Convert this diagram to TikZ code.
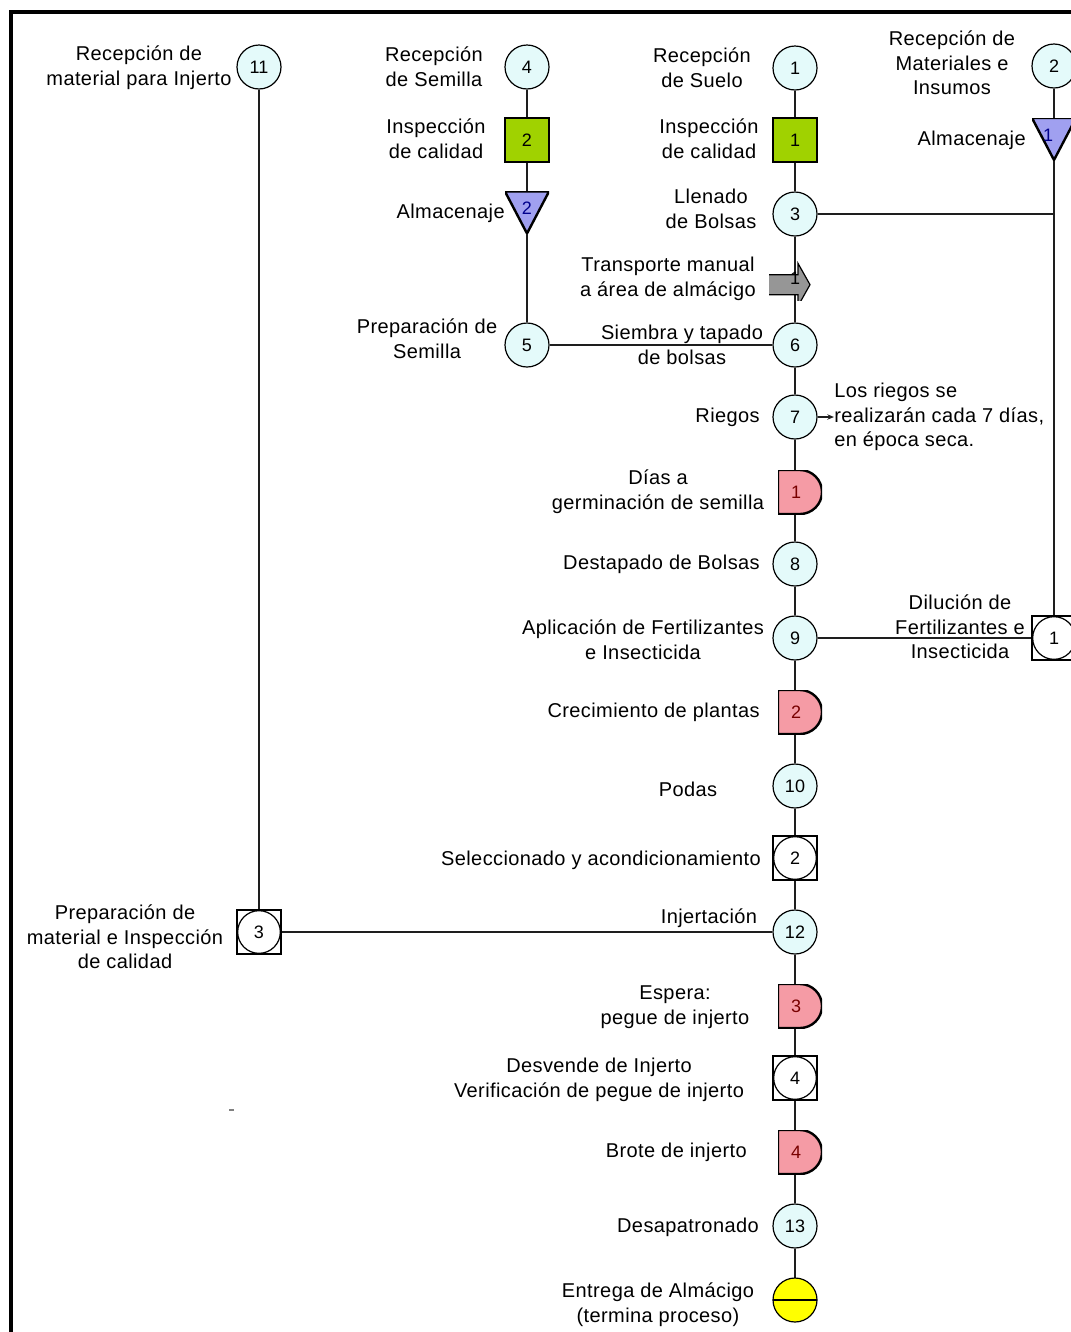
\documentclass[tikz,border=0pt]{standalone}
\usepackage{fontspec}
\setmainfont{Liberation Sans}[LetterSpace=2]
\newfontfamily\numfont{Liberation Sans}
\usetikzlibrary{calc,arrows.meta,backgrounds}
\definecolor{opfill}{RGB}{228,250,250}
\definecolor{inspfill}{RGB}{160,210,0}
\definecolor{storefill}{RGB}{160,160,240}
\definecolor{storenum}{RGB}{0,0,140}
\definecolor{delayfill}{RGB}{245,155,165}
\definecolor{delaynum}{RGB}{120,0,0}
\definecolor{transfill}{RGB}{150,150,150}
\definecolor{endfill}{RGB}{255,255,0}
\definecolor{linecol}{RGB}{30,30,30}
\begin{document}
\begin{tikzpicture}[x=0.75pt,y=-0.75pt,
 conn/.style={draw=linecol, line width=1.3pt},
 lbl/.style={inner sep=0pt, align=center, font=\fontsize{15}{18.5}\selectfont},
 numf/.style={font=\numfont\fontsize{13.5}{13.5}\selectfont},
 op/.style={circle, draw=black, line width=0.9pt, fill=opfill, minimum size=33pt, inner sep=0pt, numf},
 insp/.style={rectangle, draw=black, line width=0.9pt, fill=inspfill, minimum size=33pt, inner sep=0pt, numf},
 store/.style={rectangle, minimum width=33pt, minimum height=31.5pt, inner sep=0pt, numf, text=storenum,
   path picture={\path[fill=storefill, draw=black, line width=1.8pt] (path picture bounding box.north west) -- (path picture bounding box.north east) -- (path picture bounding box.south) -- cycle;}},
 delay/.style={rectangle, minimum size=33pt, inner sep=0pt, numf, text=delaynum,
   path picture={\path[fill=delayfill, draw=black, line width=1.8pt] (path picture bounding box.north west) -- (path picture bounding box.north) arc[start angle=90, end angle=-90, radius=16.5pt] -- (path picture bounding box.south west) -- cycle;}},
 trans/.style={rectangle, minimum width=39pt, minimum height=33pt, inner sep=0pt, numf,
   path picture={\path[fill=transfill, draw=black, line width=0.9pt, shift={(path picture bounding box.center)}] (-19.5pt,7.5pt) -- (6pt,7.5pt) -- (6pt,16pt) -- (15pt,0pt) -- (6pt,-16pt) -- (6pt,-7.5pt) -- (-19.5pt,-7.5pt) -- cycle;}},
 combo/.style={rectangle, draw=black, line width=0.9pt, fill=white, minimum size=33pt, inner sep=0pt, numf,
   path picture={\draw[line width=0.9pt] (path picture bounding box.center) circle[radius=16pt];}},
 endsym/.style={circle, draw=black, line width=0.9pt, fill=endfill, minimum size=33pt, inner sep=0pt,
   path picture={\draw[line width=1.8pt] (path picture bounding box.west) -- (path picture bounding box.east);}}
]
\useasboundingbox (0,0) rectangle (1071,1332);
\draw[line width=3pt] (11,1340) -- (11,12) -- (1080,12);

% symbols
\node[op] (c11) at (259,67) {11};
\node[op] (c4) at (527,67) {4};
\node[insp] (g2) at (527,140) {2};
\node[store] (t2) at (527,212.5) {\raisebox{6pt}{2}};
\node[op] (c5) at (527,345) {5};
\node[op] (c1) at (795,68) {1};
\node[insp] (g1) at (795,140) {1};
\node[op] (c3) at (795,214) {3};
\node[trans] (tr1) at (795,278.5) {1};
\node[op] (c6) at (795,345) {6};
\node[op] (c7) at (795,417) {7};
\node[delay] (d1) at (800,492) {1\kern6pt};
\node[op] (c8) at (795,564) {8};
\node[op] (c9) at (795,638) {9};
\node[delay] (d2) at (800,712) {2\kern6pt};
\node[op] (c10) at (795,786) {10};
\node[combo] (s2) at (795,858) {2};
\node[op] (c12) at (795,932) {12};
\node[delay] (d3) at (800,1006) {3\kern6pt};
\node[combo] (s4) at (795,1078) {4};
\node[delay] (d4) at (800,1152) {4\kern6pt};
\node[op] (c13) at (795,1226) {13};
\node[endsym] (fin) at (795,1300) {};
\node[combo] (s3) at (259,932) {3};
\node[op] (c2) at (1054,66) {2};
\node[store] (t1) at (1054,139) {\raisebox{6pt}{1}\kern9pt};
\node[combo] (s1) at (1054,638) {1};

% connectors
\begin{scope}[on background layer]
\draw[conn] (c11) -- (s3);
\draw[conn] (s3) -- (c12);
\draw[conn] (c4) -- (g2);
\draw[conn] (g2) -- (t2.center);
\draw[conn] (t2.center) -- (c5);
\draw[conn] (c5) -- (c6);
\draw[conn] (c1) -- (g1);
\draw[conn] (g1) -- (c3);
\draw[conn] (c3) -- (tr1.center);
\draw[conn] (tr1.center) -- (c6);
\draw[conn] (c6) -- (c7);
\draw[conn] (c7) -- (c7 |- d1);
\draw[conn] (c7 |- d1) -- (c8);
\draw[conn] (c8) -- (c9);
\draw[conn] (c9) -- (c9 |- d2);
\draw[conn] (c9 |- d2) -- (c10);
\draw[conn] (c10) -- (s2);
\draw[conn] (s2) -- (c12);
\draw[conn] (c12) -- (c12 |- d3);
\draw[conn] (c12 |- d3) -- (s4);
\draw[conn] (s4) -- (s4 |- d4);
\draw[conn] (s4 |- d4) -- (c13);
\draw[conn] (c13) -- (fin.center);
\draw[conn] (c3) -- (c3 -| t1);
\draw[conn] (c2) -- (t1.center);
\draw[conn] (t1.center) -- (s1);
\draw[conn] (c9) -- (s1);
\end{scope}

% labels
\node[lbl] (l11) at (139,68) {Recepción de\\material para Injerto};
\node[lbl] (l4) at (434,67) {Recepción\\de Semilla};
\node[lbl] (lg2) at (436,139) {Inspección\\de calidad};
\node[lbl, anchor=east] (lt2) at (505,213) {Almacenaje};
\node[lbl] (l5) at (427,339) {Preparación de\\Semilla};
\node[lbl] (l1) at (702,68) {Recepción\\de Suelo};
\node[lbl] (lg1) at (709,139) {Inspección\\de calidad};
\node[lbl] (l3) at (711,209) {Llenado\\de Bolsas};
\node[lbl] (la1) at (668,279) {Transporte manual\\a área de almácigo};
\node[lbl] (l6) at (682,345) {Siembra y tapado\\de bolsas};
\node[lbl] (l2) at (952,63) {Recepción de\\Materiales e\\Insumos};
\node[lbl, anchor=east] (lt1) at (1026,140) {Almacenaje};
\node[lbl, anchor=east] (l7) at (760,417) {Riegos};
\node[lbl, align=left, anchor=west] (note) at (834,417) {Los riegos se\\realizarán cada 7 días,\\en época seca.};
\node[lbl] (ld1) at (658,492) {Días a\\germinación de semilla};
\node[lbl, anchor=east] (l8) at (760,564) {Destapado de Bolsas};
\node[lbl] (l9) at (643,640) {Aplicación de Fertilizantes\\e Insecticida};
\node[lbl] (ls1) at (960,627) {Dilución de\\Fertilizantes e\\Insecticida};
\node[lbl, anchor=east] (ld2) at (760,712) {Crecimiento de plantas};
\node[lbl] (l10) at (688,789) {Podas};
\node[lbl, anchor=east] (ls2) at (761,860) {Seleccionado y acondicionamiento};
\node[lbl] (ls3) at (125,937) {Preparación de\\material e Inspección\\de calidad};
\node[lbl] (l12) at (709,918) {Injertación};
\node[lbl] (ld3) at (675,1007) {Espera:\\pegue de injerto};
\node[lbl] (ls4) at (599,1080) {Desvende de Injerto\\Verificación de pegue de injerto};
\node[lbl, anchor=east] (ld4) at (747,1152) {Brote de injerto};
\node[lbl, anchor=east] (l13) at (759,1227) {Desapatronado};
\node[lbl] (lend) at (658,1305) {Entrega de Almácigo\\(termina proceso)};

\draw[linecol, line width=0.9pt, -{Stealth[length=5pt,width=4pt]}] (c7.east) -- (note.west);
\draw[gray, line width=0.8pt] (229,1110) -- (234,1110);
\end{tikzpicture}
\end{document}
